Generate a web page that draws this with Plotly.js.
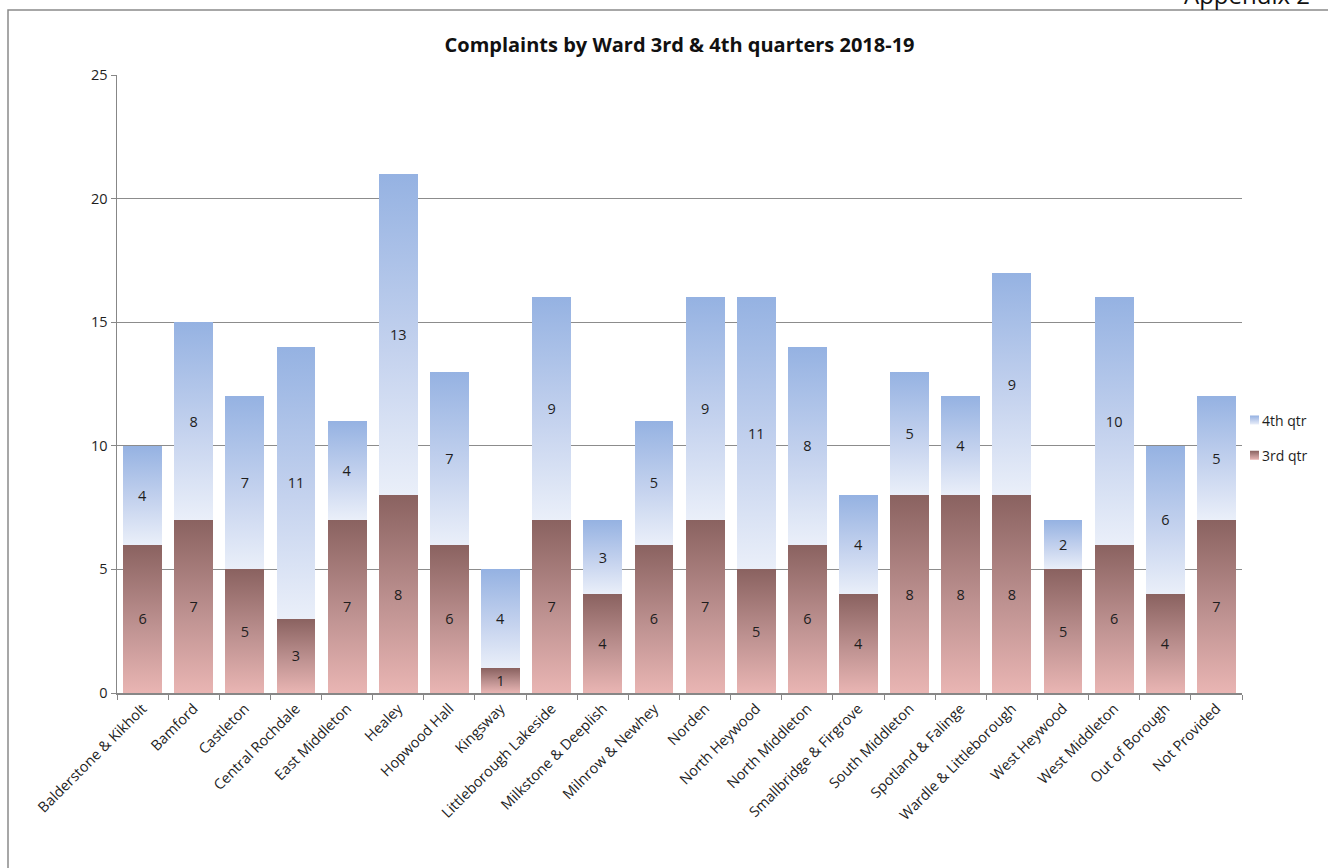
<!DOCTYPE html>
<html>
<head>
<meta charset="utf-8">
<script src="https://cdn.plot.ly/plotly-3.0.1.min.js"></script>
<style>
  html, body { margin: 0; padding: 0; background: #fff; }
  #chart { width: 1328px; height: 868px; }
</style>
</head>
<body>
<div id="chart"></div>
<script>
// Wards
const wards = [
  "Balderstone & Kikholt", "Bamford", "Castleton", "Central Rochdale",
  "East Middleton", "Healey", "Hopwood Hall", "Kingsway",
  "Littleborough Lakeside", "Milkstone & Deeplish", "Milnrow & Newhey",
  "Norden", "North Heywood", "North Middleton", "Smallbridge & Firgrove",
  "South Middleton", "Spotland & Falinge", "Wardle & Littleborough",
  "West Heywood", "West Middleton", "Out of Borough", "Not Provided"
];

// Complaints per ward, by quarter
const qtr3 = [6, 7, 5, 3, 7, 8, 6, 1, 7, 4, 6, 7, 5, 6, 4, 8, 8, 8, 5, 6, 4, 7];
const qtr4 = [4, 8, 7, 11, 4, 13, 7, 4, 9, 3, 5, 9, 11, 8, 4, 5, 4, 9, 2, 10, 6, 5];

const yTicks = [0, 5, 10, 15, 20, 25];

const FONT = "Open Sans, Liberation Sans, sans-serif";
const AXIS = "#878787";
const TXT = "#1e1e1e";

const common = {
  type: "bar",
  x: wards,
  texttemplate: "%{y}",
  textposition: "inside",
  insidetextanchor: "middle",
  textangle: 0,
  insidetextfont: { family: FONT, size: 14.5, color: TXT },
  hoverinfo: "x+y+name",
  cliponaxis: false
};

const traces = [
  Object.assign({}, common, {
    name: "3rd qtr", y: qtr3, legendrank: 2, legendgroup: "q3",
    marker: { color: "#C09392", line: { width: 0 } }
  }),
  Object.assign({}, common, {
    name: "4th qtr", y: qtr4, legendrank: 1, legendgroup: "q4",
    marker: { color: "#BCCCEC", line: { width: 0 } }
  })
];

const W = 1328, H = 868;
const L = 117, R = 86, T = 75, B = 175;
const pw = W - L - R, ph = H - T - B;
const px = v => (v - L) / pw;          // pixel x -> paper x
const py = v => 1 - (v - T) / ph;      // pixel y -> paper y

const layout = {
  width: W, height: H,
  margin: { l: L, r: R, t: T, b: B, pad: 0, autoexpand: false },
  paper_bgcolor: "#ffffff",
  plot_bgcolor: "#ffffff",
  barmode: "stack",
  bargap: 0.24,
  font: { family: FONT, size: 14.5, color: TXT },
  title: {
    text: "<b>Complaints by Ward 3rd & 4th quarters 2018-19</b>",
    font: { family: FONT, size: 20, color: "#111" },
    x: 0.5, xref: "paper", xanchor: "center",
    y: 1 - 45 / H, yref: "container", yanchor: "middle"
  },
  xaxis: {
    type: "category",
    tickangle: -45,
    ticks: "outside", ticklen: 5, tickcolor: AXIS, tickwidth: 1,
    tickson: "boundaries",
    showline: true, linecolor: AXIS, linewidth: 1.5,
    showgrid: false, zeroline: false,
    tickfont: { family: FONT, size: 14.5, color: TXT },
    automargin: false,
    fixedrange: true
  },
  yaxis: {
    range: [0, 25],
    tickvals: yTicks,
    ticktext: yTicks.map(String),
    ticks: "outside", ticklen: 5, tickcolor: AXIS, tickwidth: 1,
    showline: true, linecolor: AXIS, linewidth: 1.5,
    showgrid: true, gridcolor: "#8c8c8c", gridwidth: 1,
    zeroline: false,
    tickfont: { family: FONT, size: 14.5, color: TXT },
    automargin: false,
    fixedrange: true
  },
  legend: {
    x: px(1222), xanchor: "left",
    y: py(438), yanchor: "middle",
    traceorder: "grouped",
    tracegroupgap: 14,
    font: { family: FONT, size: 14, color: TXT },
    bgcolor: "rgba(0,0,0,0)",
    itemwidth: 30
  },
  shapes: [{
    type: "rect", xref: "paper", yref: "paper",
    x0: px(8), x1: px(1400), y0: py(1000), y1: py(10),
    line: { color: "#8a8a8a", width: 1.5 },
    fillcolor: "rgba(0,0,0,0)", layer: "below"
  }],
  annotations: [{
    text: "Appendix 2",
    xref: "paper", yref: "paper",
    x: px(1312), xanchor: "right",
    y: py(13), yanchor: "bottom",
    showarrow: false,
    font: { family: FONT, size: 24, color: "#111" }
  }],
  showlegend: true
};

// Vertical gradients for each quarter, darker at the top of each bar
const gradients = {
  q3: [["0%", "#8A6260"], ["55%", "#BE9291"], ["100%", "#E9B5B3"]],
  q4: [["0%", "#95B2E2"], ["55%", "#C4D2EE"], ["100%", "#EAEFF9"]]
};

function applyGradients(gd) {
  const svgNS = "http://www.w3.org/2000/svg";
  const svg = gd.querySelector("svg.main-svg");
  let defs = svg.querySelector("defs#bar-grads");
  if (!defs) {
    defs = document.createElementNS(svgNS, "defs");
    defs.setAttribute("id", "bar-grads");
    svg.insertBefore(defs, svg.firstChild);
    Object.keys(gradients).forEach(key => {
      const lg = document.createElementNS(svgNS, "linearGradient");
      lg.setAttribute("id", "grad-" + key);
      lg.setAttribute("x1", "0"); lg.setAttribute("y1", "0");
      lg.setAttribute("x2", "0"); lg.setAttribute("y2", "1");
      gradients[key].forEach(([off, col]) => {
        const st = document.createElementNS(svgNS, "stop");
        st.setAttribute("offset", off);
        st.setAttribute("stop-color", col);
        lg.appendChild(st);
      });
      defs.appendChild(lg);
    });
  }
  const barTraces = gd.querySelectorAll(".barlayer .trace.bars");
  barTraces.forEach((tr, i) => {
    const key = i === 0 ? "q3" : "q4";
    tr.querySelectorAll(".point path").forEach(p => {
      p.style.fill = "url(#grad-" + key + ")";
    });
  });
  // Legend swatches: smaller squares sitting close to their labels
  gd.querySelectorAll(".legend .traces").forEach(tr => {
    const name = tr.querySelector(".legendtext").textContent;
    const key = name.indexOf("3rd") === 0 ? "q3" : "q4";
    tr.querySelectorAll(".legendpoints path").forEach(p => {
      p.setAttribute("d", "M4.5,4.5H-4.5V-4.5H4.5Z");
      p.setAttribute("transform", "translate(32.5,0)");
      p.style.fill = "url(#grad-" + key + ")";
    });
  });
}

Plotly.newPlot("chart", traces, layout, { displayModeBar: false, staticPlot: true })
  .then(gd => { applyGradients(gd); });
</script>
</body>
</html>
